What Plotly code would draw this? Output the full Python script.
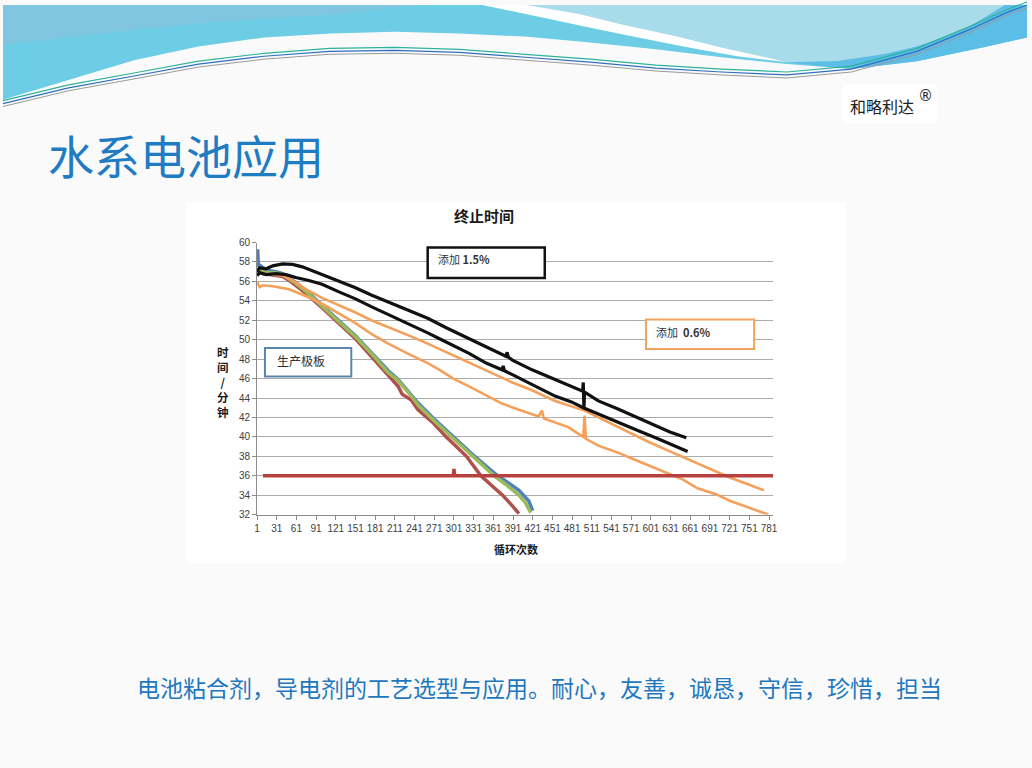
import plotly.graph_objects as go

# ---- data (cycle number, minutes) ----
cycle_ticks = list(range(1, 782, 30))
tick_labels = [str(c) for c in cycle_ticks]

blue_x = [1, 2, 3, 10, 20, 30, 40, 50, 60, 75, 100, 125, 151, 175, 201, 216, 236, 246, 270, 297, 329, 362, 380, 400, 415, 421]
blue_y = [57.5, 59.3, 57.8, 57.4, 57.1, 57.0, 56.8, 56.4, 55.9, 55.1, 53.6, 52.0, 50.4, 48.7, 46.8, 45.9, 44.3, 43.5, 41.9, 40.2, 38.2, 36.3, 35.4, 34.5, 33.4, 32.4]

red_x = [1, 10, 20, 30, 40, 50, 60, 75, 100, 125, 151, 175, 201, 216, 222, 236, 246, 270, 289, 320, 342, 375, 390, 400]
red_y = [57.2, 56.8, 56.7, 56.6, 56.5, 56.1, 55.6, 54.8, 53.3, 51.7, 50.1, 48.3, 46.3, 45.2, 44.4, 43.8, 42.8, 41.4, 40.0, 38.0, 36.0, 34.0, 32.9, 32.1]

green_x = [1, 10, 20, 30, 40, 50, 60, 75, 100, 125, 151, 175, 201, 216, 236, 246, 270, 297, 329, 362, 380, 400, 410, 418]
green_y = [57.3, 57.0, 56.9, 56.9, 56.7, 56.3, 55.8, 55.0, 53.5, 51.9, 50.3, 48.6, 46.6, 45.8, 44.2, 43.3, 41.7, 40.0, 38.0, 36.0, 35.1, 34.0, 33.2, 32.2]

orange_a_x = [1, 10, 25, 40, 50, 60, 75, 100, 125, 151, 175, 201, 230, 261, 290, 324, 350, 390, 420, 455, 500, 521, 550, 571, 597, 630, 672, 700, 722, 750, 773]
orange_a_y = [56.9, 56.8, 56.7, 56.6, 56.3, 55.9, 55.2, 54.3, 53.6, 52.8, 52.0, 51.3, 50.5, 49.6, 48.7, 47.6, 46.8, 45.6, 44.8, 43.7, 42.7, 42.0, 41.0, 40.3, 39.5, 38.5, 37.3, 36.5, 35.8, 35.1, 34.5]

orange_b_x = [1, 5, 10, 25, 50, 75, 100, 125, 151, 175, 201, 230, 261, 279, 300, 324, 350, 375, 400, 430, 435, 438, 475, 498, 500, 502, 521, 550, 571, 597, 622, 650, 672, 700, 722, 750, 780]
orange_b_y = [56.0, 55.4, 55.6, 55.5, 55.2, 54.5, 53.7, 52.7, 51.7, 50.6, 49.6, 48.6, 47.6, 46.9, 46.0, 45.2, 44.3, 43.4, 42.8, 42.1, 42.7, 41.9, 41.0, 40.0, 42.2, 39.8, 39.1, 38.4, 37.8, 37.1, 36.4, 35.6, 34.7, 34.1, 33.4, 32.7, 32.0]

black_a_x = [1, 5, 15, 25, 40, 55, 70, 85, 100, 125, 151, 175, 201, 230, 261, 290, 324, 350, 380, 382, 384, 390, 420, 455, 480, 497, 498, 499, 500, 521, 550, 581, 610, 630, 655]
black_a_y = [57.0, 57.4, 57.3, 57.6, 57.8, 57.75, 57.5, 57.1, 56.7, 56.0, 55.35, 54.6, 53.85, 53.05, 52.2, 51.2, 50.1, 49.2, 48.3, 48.7, 48.2, 47.9, 46.9, 45.9, 45.2, 44.7, 45.6, 42.9, 44.6, 43.7, 42.9, 42.0, 41.1, 40.5, 39.9]

black_b_x = [1, 5, 15, 30, 45, 60, 80, 100, 125, 151, 175, 201, 230, 261, 279, 300, 324, 350, 374, 376, 378, 390, 420, 455, 480, 498, 521, 550, 581, 610, 630, 657]
black_b_y = [56.6, 56.9, 56.7, 56.8, 56.7, 56.4, 56.1, 55.7, 54.95, 54.2, 53.4, 52.6, 51.7, 50.7, 50.1, 49.4, 48.6, 47.6, 46.9, 47.3, 46.8, 46.4, 45.4, 44.2, 43.6, 43.0, 42.35, 41.5, 40.65, 39.85, 39.3, 38.5]

limit_x = [10, 300, 301, 302, 790]
limit_y = [36, 36, 36.7, 36, 36]

W, H = 1032, 768


def fx(x):
    return x / W


def fy(y):
    return 1 - y / H


def poly(points):
    # pixel points -> closed svg path in paper coordinates
    s = 'M ' + ' L '.join(f'{fx(x):.4f},{fy(y):.4f}' for x, y in points)
    return s + ' Z'


def line_path(points):
    return 'M ' + ' L '.join(f'{fx(x):.4f},{fy(y):.4f}' for x, y in points)


fig = go.Figure()

fig.add_trace(go.Scatter(x=blue_x, y=blue_y, mode='lines', line=dict(color='#4f81bd', width=3.5)))
fig.add_trace(go.Scatter(x=red_x, y=red_y, mode='lines', line=dict(color='#b0504d', width=3.5)))
fig.add_trace(go.Scatter(x=green_x, y=green_y, mode='lines', line=dict(color='#9bbb59', width=3.5)))
fig.add_trace(go.Scatter(x=orange_a_x, y=orange_a_y, mode='lines', line=dict(color='#f5a05a', width=2.6)))
fig.add_trace(go.Scatter(x=orange_b_x, y=orange_b_y, mode='lines', line=dict(color='#f5a05a', width=2.6)))
fig.add_trace(go.Scatter(x=black_a_x, y=black_a_y, mode='lines', line=dict(color='#111111', width=3.2)))
fig.add_trace(go.Scatter(x=black_b_x, y=black_b_y, mode='lines', line=dict(color='#111111', width=3.2)))
fig.add_trace(go.Scatter(x=limit_x, y=limit_y, mode='lines', line=dict(color='#b8403f', width=3.5)))

# ---- slide decoration ----
cyan_edge = [(1032, 33), (987, 43), (921, 57), (855, 65), (790, 60), (724, 53), (658, 45), (592, 38),
             (526, 32), (460, 29), (395, 27), (330, 29), (263, 33), (197, 42), (132, 56), (66, 76), (0, 96)]
light_region = [(528, 0), (1010, 0), (974, 22), (954, 31), (921, 42), (888, 50), (840, 57), (790, 58),
                (750, 50), (724, 43), (680, 32), (625, 20), (580, 9)]
swoosh = [(483, 0), (528, 0), (580, 9), (625, 20), (680, 32), (724, 43), (790, 58),
          (740, 52), (691, 43), (640, 33), (592, 23), (540, 12)]
deep_band = [(790, 58), (840, 57), (888, 50), (921, 42), (954, 31), (974, 22), (1010, 0), (1032, 0),
             (1032, 33), (987, 43), (921, 57), (855, 65)]
wave_line = [(0, 100), (66, 84), (132, 72), (197, 60), (263, 52), (329, 47), (395, 46), (460, 48),
             (526, 53), (592, 58), (658, 64), (724, 68), (790, 71), (855, 65), (921, 47), (974, 25),
             (1013, 7), (1032, 0)]

shapes = [
    dict(type='path', xref='paper', yref='paper', layer='below',
         path=poly([(0, 0), (1032, 0)] + cyan_edge), fillcolor='#6ccde4', line=dict(width=0)),
    dict(type='path', xref='paper', yref='paper', layer='below',
         path=poly([(0, 0), (420, 0), (330, 10), (200, 18), (0, 40)]), fillcolor='#80c6e0', line=dict(width=0)),
    dict(type='path', xref='paper', yref='paper', layer='below',
         path=poly(light_region), fillcolor='#a8dcea', line=dict(width=0)),
    dict(type='path', xref='paper', yref='paper', layer='below',
         path=poly(deep_band), fillcolor='#5cbde6', line=dict(width=0)),
    dict(type='path', xref='paper', yref='paper', layer='below',
         path=poly(swoosh), fillcolor='#ffffff', line=dict(width=0)),
    dict(type='path', xref='paper', yref='paper', layer='below',
         path=line_path([(x, y - 3) for x, y in wave_line]), line=dict(color='#2bb39c', width=1.2)),
    dict(type='path', xref='paper', yref='paper', layer='below',
         path=line_path(wave_line), line=dict(color='#2f6fc0', width=1.2)),
    dict(type='path', xref='paper', yref='paper', layer='below',
         path=line_path([(x, y + 3) for x, y in wave_line]), line=dict(color='#9a9a9a', width=1)),
    # logo plate
    dict(type='rect', xref='paper', yref='paper', layer='below',
         x0=fx(846), x1=fx(941), y0=fy(120), y1=fy(80), fillcolor='#ffffff', line=dict(width=0)),
    # chart panel
    dict(type='rect', xref='paper', yref='paper', layer='below',
         x0=fx(185), x1=fx(849), y0=fy(566), y1=fy(200), fillcolor='#ffffff', line=dict(width=0)),
    # note boxes
    dict(type='rect', xref='paper', yref='paper', layer='above',
         x0=fx(428), x1=fx(546), y0=fy(277), y1=fy(246), fillcolor='#ffffff', line=dict(color='#111111', width=2.5)),
    dict(type='rect', xref='paper', yref='paper', layer='above',
         x0=fx(648), x1=fx(757), y0=fy(349), y1=fy(319), fillcolor='#ffffff', line=dict(color='#f0a45e', width=2)),
    dict(type='rect', xref='paper', yref='paper', layer='above',
         x0=fx(264), x1=fx(351), y0=fy(377), y1=fy(348), fillcolor='#ffffff', line=dict(color='#5a86ad', width=2)),
]

cjk = 'Noto Sans CJK SC'
annotations = [
    dict(text='水系电池应用', x=fx(43), y=fy(151), xanchor='left', yanchor='middle',
         font=dict(family=cjk, size=46, color='#1f7cc3')),
    dict(text='和略利达', x=fx(852), y=fy(102), xanchor='left', yanchor='middle',
         font=dict(family=cjk, size=16, color='#222222')),
    dict(text='®', x=fx(920), y=fy(92), xanchor='left', yanchor='middle',
         font=dict(family='DejaVu Sans', size=15, color='#222222')),
    dict(text='<b>终止时间</b>', x=fx(485), y=fy(214), xanchor='center', yanchor='middle',
         font=dict(family=cjk, size=15, color='#1a1a1a')),
    dict(text='<b>时<br>间<br>/<br>分<br>钟</b>', x=fx(222), y=fy(382), xanchor='center', yanchor='middle',
         font=dict(family=cjk, size=11.5, color='#1a1a1a')),
    dict(text='<b>循环次数</b>', x=fx(517), y=fy(552), xanchor='center', yanchor='middle',
         font=dict(family=cjk, size=11, color='#1a1a1a')),
    dict(text='添加 <b>1.5%</b>', x=fx(436), y=fy(258), xanchor='left', yanchor='middle',
         font=dict(family=cjk, size=11, color='#333333')),
    dict(text='添加  <b>0.6%</b>', x=fx(656), y=fy(332), xanchor='left', yanchor='middle',
         font=dict(family=cjk, size=11, color='#333333')),
    dict(text='生产极板', x=fx(274), y=fy(361), xanchor='left', yanchor='middle',
         font=dict(family=cjk, size=12, color='#333333')),
    dict(text='电池粘合剂，导电剂的工艺选型与应用。耐心，友善，诚恳，守信，珍惜，担当',
         x=fx(133), y=fy(692), xanchor='left', yanchor='middle',
         font=dict(family=cjk, size=23, color='#1f78bf')),
]
for a in annotations:
    a.update(xref='paper', yref='paper', showarrow=False)

fig.update_layout(
    width=W, height=H, margin=dict(l=0, r=0, t=0, b=0),
    paper_bgcolor='#fafafa', plot_bgcolor='rgba(0,0,0,0)',
    showlegend=False, shapes=shapes, annotations=annotations,
    xaxis=dict(domain=[fx(256), fx(776)], range=[1, 787], showgrid=False, zeroline=False,
               tickvals=cycle_ticks, ticktext=tick_labels, ticks='outside', ticklen=4,
               tickcolor='#8c8c8c', showline=True, linecolor='#8c8c8c', linewidth=1,
               tickfont=dict(family='Liberation Sans', size=10, color='#404040')),
    yaxis=dict(domain=[fy(517), fy(241)], range=[32, 60], dtick=2, showgrid=True,
               gridcolor='#ababab', gridwidth=1, zeroline=False, ticks='outside', ticklen=4,
               tickcolor='#8c8c8c', showline=True, linecolor='#8c8c8c', linewidth=1,
               tickfont=dict(family='Liberation Sans', size=10, color='#404040')),
)

# page body margin would push the 1032x768 figure off the window
fig.write_html('out.html', config={'displayModeBar': False},
               post_script="document.body.style.margin='0';document.body.style.overflow='hidden';")
